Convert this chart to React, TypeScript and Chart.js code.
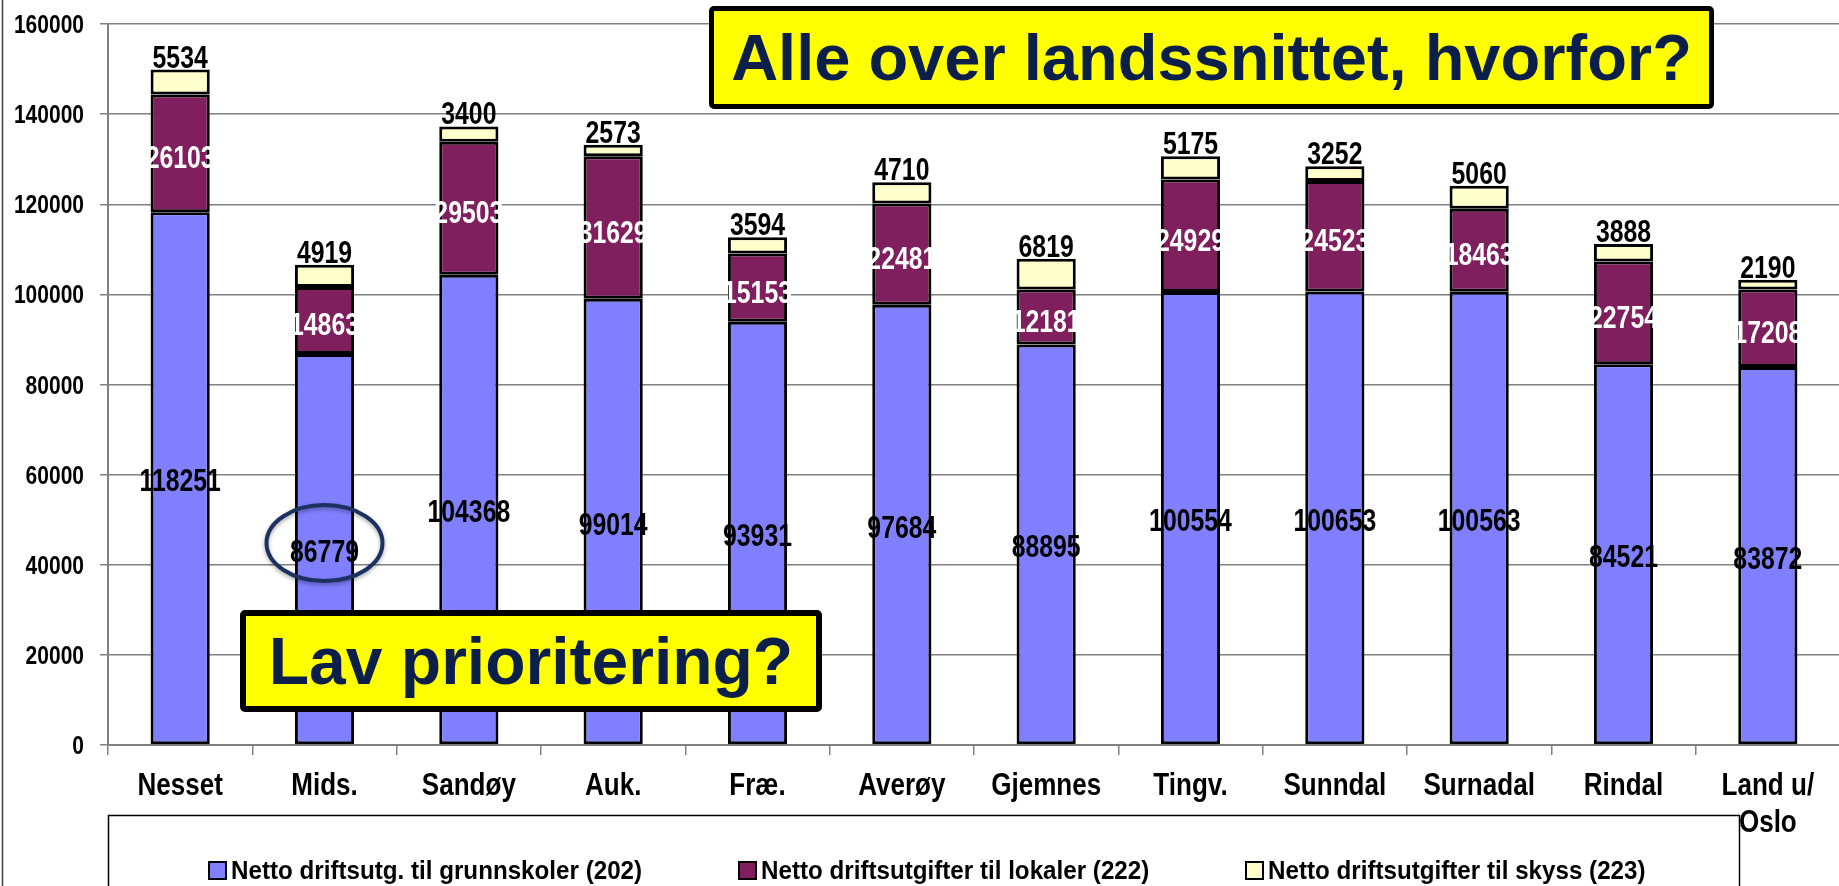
import React, { useEffect, useRef } from "react";
import { Chart, registerables } from "chart.js";

Chart.register(...registerables);

// ---- Data ----
const categories: (string | string[])[] = [
  "Nesset", "Mids.", "Sandøy", "Auk.", "Fræ.", "Averøy", "Gjemnes",
  "Tingv.", "Sunndal", "Surnadal", "Rindal", ["Land u/", "Oslo"],
];
const grunnskoler = [118251, 86779, 104368, 99014, 93931, 97684, 88895, 100554, 100653, 100563, 84521, 83872];
const lokaler = [26103, 14863, 29503, 31629, 15153, 22481, 12181, 24929, 24523, 18463, 22754, 17208];
const skyss = [5534, 4919, 3400, 2573, 3594, 4710, 6819, 5175, 3252, 5060, 3888, 2190];
const seriesNames = [
  "Netto driftsutg. til grunnskoler (202)",
  "Netto driftsutgifter til lokaler (222)",
  "Netto driftsutgifter til skyss (223)",
];
const yMax = 160000;
const yStep = 20000;
const highlightIndex = 1; // Mids.
const topNote = "Alle over landssnittet, hvorfor?";
const bottomNote = "Lav prioritering?";

const COLORS = ["#8080FF", "#801F5E", "#FFFFCC"];
const SANS = "'Liberation Sans', Arial, sans-serif";

// draws horizontally condensed bold text (imitates Arial Narrow Bold)
function narrowText(
  ctx: CanvasRenderingContext2D, text: string, x: number, y: number,
  size: number, k: number, color: string, align: CanvasTextAlign,
) {
  ctx.save();
  ctx.translate(x, y);
  ctx.scale(k, 1);
  ctx.font = `bold ${size}px ${SANS}`;
  ctx.fillStyle = color;
  ctx.textAlign = align;
  ctx.textBaseline = "alphabetic";
  ctx.fillText(text, 0, 0);
  ctx.restore();
}

const decorPlugin = {
  id: "decor",
  beforeDraw(chart: any) {
    const ctx = chart.ctx;
    ctx.save();
    ctx.strokeStyle = "#404040";
    ctx.lineWidth = 1.5;
    ctx.beginPath();
    ctx.moveTo(2.5, 0);
    ctx.lineTo(2.5, chart.height);
    ctx.stroke();
    ctx.restore();
  },
  afterDatasetsDraw(chart: any) {
    const ctx = chart.ctx;
    chart.data.datasets.forEach((ds: any, di: number) => {
      const meta = chart.getDatasetMeta(di);
      meta.data.forEach((el: any, i: number) => {
        const txt = String(ds.data[i]);
        const mid = (el.y + el.base) / 2;
        if (di === 0) narrowText(ctx, txt, el.x, mid + 13, 31, 0.8, "#000", "center");
        else if (di === 1) narrowText(ctx, txt, el.x, mid + 15, 31, 0.8, "#fff", "center");
        else narrowText(ctx, txt, el.x, el.y - 2, 31, 0.8, "#000", "center");
      });
    });
    // highlight ellipse
    const el = chart.getDatasetMeta(0).data[highlightIndex];
    if (el) {
      const cy = (el.y + el.base) / 2 - 6;
      ctx.save();
      ctx.strokeStyle = "#1B3160";
      ctx.lineWidth = 4;
      ctx.shadowColor = "rgba(0,0,0,0.35)";
      ctx.shadowBlur = 4;
      ctx.shadowOffsetY = 2;
      ctx.beginPath();
      ctx.ellipse(el.x, cy, 58, 38, 0, 0, Math.PI * 2);
      ctx.stroke();
      ctx.restore();
    }
  },
  afterDraw(chart: any) {
    const ctx = chart.ctx;
    const area = chart.chartArea;
    const xs = chart.scales.x;
    const ys = chart.scales.y;
    // y tick labels
    ys.ticks.forEach((t: any, i: number) => {
      const y = ys.getPixelForTick(i);
      narrowText(ctx, String(t.value), area.left - 24, y + 9, 25, 0.84, "#000", "right");
    });
    // x tick labels
    chart.data.labels.forEach((lab: any, i: number) => {
      const x = xs.getPixelForTick(i);
      const lines = Array.isArray(lab) ? lab : [lab];
      lines.forEach((ln: string, j: number) => {
        narrowText(ctx, ln, x, xs.top + 50 + j * 37, 31, 0.84, "#000", "center");
      });
    });
    ctx.save();
    // legend frame
    const left = area.left + 0.5;
    const right = area.right - 100.5;
    const top = chart.height - 70.5;
    ctx.strokeStyle = "#000";
    ctx.lineWidth = 1.5;
    ctx.strokeRect(left, top, right - left, 200);
    ctx.restore();
    // legend items
    const textX = [231, 761, 1268];
    chart.data.datasets.forEach((ds: any, i: number) => {
      const x = textX[i] - 23;
      ctx.save();
      ctx.fillStyle = ds.backgroundColor;
      ctx.fillRect(x, 861, 19, 19);
      ctx.strokeStyle = "#000";
      ctx.lineWidth = 2;
      ctx.strokeRect(x + 1, 862, 17, 17);
      ctx.restore();
      narrowText(ctx, ds.label, textX[i], 879, 26, 0.93, "#000", "left");
    });
  },
};

function BarChart() {
  const ref = useRef<HTMLCanvasElement | null>(null);
  useEffect(() => {
    if (!ref.current) return;
    const mk = (i: number, data: number[]) => ({
      label: seriesNames[i],
      data,
      backgroundColor: COLORS[i],
      borderColor: "#000",
      borderWidth: 3,
      borderSkipped: false,
      barPercentage: 0.41,
      categoryPercentage: 1,
    });
    const chart = new Chart(ref.current, {
      type: "bar",
      data: {
        labels: categories,
        datasets: [mk(0, grunnskoler), mk(1, lokaler), mk(2, skyss)],
      },
      options: {
        responsive: false,
        animation: false,
        devicePixelRatio: 1,
        layout: { padding: { top: 24, left: 0, right: 1, bottom: 0 } },
        plugins: { legend: { display: false }, tooltip: { enabled: false } },
        scales: {
          x: {
            stacked: true,
            grid: {
              offset: true,
              drawOnChartArea: false,
              drawTicks: true,
              tickLength: 10,
              color: "#808080",
              lineWidth: 1.5,
            },
            border: { color: "#808080", width: 2 },
            ticks: { display: false, autoSkip: false, maxRotation: 0 },
            afterFit: (s: any) => { s.height = 141; },
          },
          y: {
            stacked: true,
            min: 0,
            max: yMax,
            grid: { color: "#808080", lineWidth: 1.5, tickLength: 8 },
            border: { color: "#808080", width: 2 },
            ticks: { display: false, stepSize: yStep },
            afterFit: (s: any) => { s.width = 108; },
          },
        },
      },
      plugins: [decorPlugin],
    } as any);
    return () => chart.destroy();
  }, []);
  return <canvas ref={ref} width={1841} height={886} style={{ display: "block" }} />;
}

export default function App() {
  const boxBase: React.CSSProperties = {
    position: "absolute",
    boxSizing: "border-box",
    background: "#FFFF00",
    border: "5px solid #000",
    borderRadius: 5,
    display: "flex",
    alignItems: "center",
    justifyContent: "center",
    fontFamily: SANS,
    fontWeight: "bold",
    color: "#0C1F4A",
    whiteSpace: "nowrap",
    lineHeight: 1,
  };
  return (
    <div style={{ position: "fixed", left: 0, top: 0, width: 1839, height: 886, overflow: "hidden", background: "#fff" }}>
      <BarChart />
      <div style={{ ...boxBase, left: 709, top: 6, width: 1005, height: 103, fontSize: 65 }}>{topNote}</div>
      <div style={{ ...boxBase, left: 240, top: 610, width: 582, height: 102, fontSize: 66, borderWidth: 6 }}>{bottomNote}</div>
    </div>
  );
}
